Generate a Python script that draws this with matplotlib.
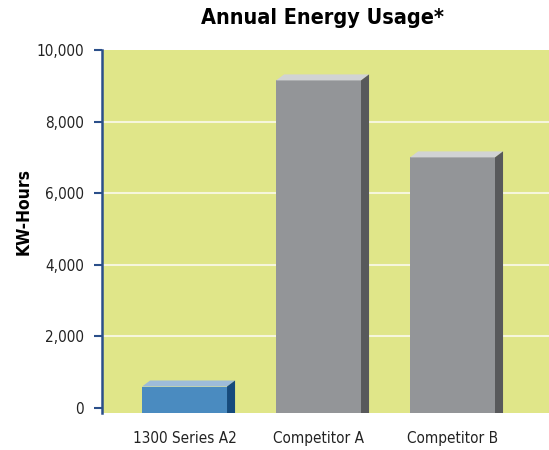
import matplotlib
matplotlib.use("Agg")
import matplotlib.pyplot as plt
from matplotlib.patches import Polygon
from matplotlib.ticker import FuncFormatter

plt.rcParams['font.family'] = ['DejaVu Sans']
plt.rcParams['font.stretch'] = 'condensed'

# data
categories = ["1300 Series A2", "Competitor A", "Competitor B"]
usage_kwh = [600, 9150, 7000]
yticks = [0, 2000, 4000, 6000, 8000, 10000]
grid_levels = [2000, 4000, 6000, 8000]

front_colors = ["#4a8bc0", "#939598", "#939598"]
top_colors = ["#9dbbd9", "#d1d3d4", "#d1d3d4"]
side_colors = ["#164a7c", "#58595b", "#58595b"]

fig = plt.figure(figsize=(5.49, 4.5), dpi=100)
ax = fig.add_axes([0.1858, 0.0822, 0.8142, 0.8067])
ax.set_facecolor("#e0e689")

y_min, y_max = -140, 10000
ax.set_ylim(y_min, y_max)
ax.set_xlim(-0.616, 2.72)

width = 0.634
dx = 0.06      # depth offset in x units
dy = 168       # depth offset in y units

x = list(range(len(categories)))
ax.bar(x, [v - y_min for v in usage_kwh], bottom=y_min, width=width,
       color=front_colors, zorder=3)

# fake 3d top and side faces
for xi, v, tc, sc in zip(x, usage_kwh, top_colors, side_colors):
    l, r = xi - width / 2, xi + width / 2
    top = Polygon([(l, v), (r, v), (r + dx, v + dy), (l + dx, v + dy)],
                  closed=True, facecolor=tc, edgecolor="none", zorder=3)
    side = Polygon([(r, y_min), (r, v), (r + dx, v + dy), (r + dx, y_min)],
                   closed=True, facecolor=sc, edgecolor="none", zorder=3)
    ax.add_patch(top)
    ax.add_patch(side)

for g in grid_levels:
    ax.axhline(g, color="#f6f6dc", linewidth=1.5, zorder=1)

ax.set_yticks(yticks)
ax.yaxis.set_major_formatter(FuncFormatter(lambda v, p: f"{int(v):,}"))
ax.set_xticks(x)
ax.set_xticklabels(categories)
ax.tick_params(axis="x", length=0, pad=13, labelsize=11, labelcolor="#222222")
ax.tick_params(axis="y", length=6, width=1.5, color="#2b4f8a", pad=7,
               labelsize=11, labelcolor="#222222")

for s in ["top", "right", "bottom"]:
    ax.spines[s].set_visible(False)
ax.spines["left"].set_color("#2b4f8a")
ax.spines["left"].set_linewidth(1.8)

ax.set_ylabel("KW-Hours", fontsize=12.5, fontweight="bold")
ax.yaxis.set_label_coords(-0.155, 0.556)
fig.text(0.587, 0.96, "Annual Energy Usage*", ha="center", va="center",
         fontsize=15.5, fontweight="bold")

fig.savefig("out.png", dpi=100)
